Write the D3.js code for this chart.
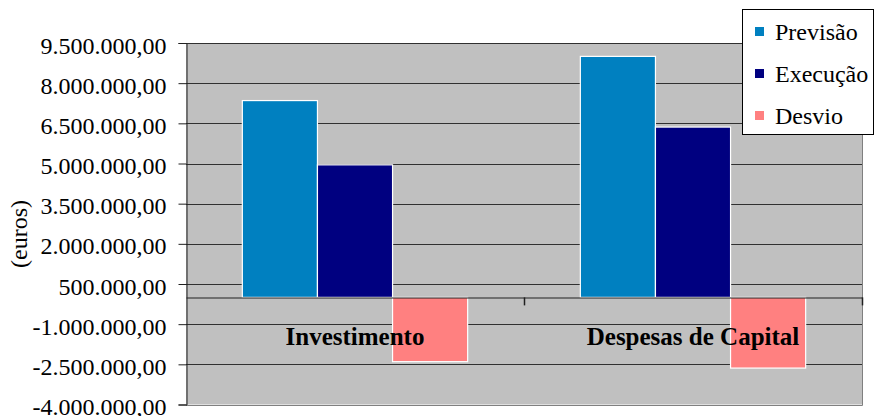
<!DOCTYPE html>
<html>
<head>
<meta charset="utf-8">
<script src="https://cdn.jsdelivr.net/npm/d3@7"></script>
<style>
  html, body { margin: 0; padding: 0; background: #fff; }
  svg { display: block; }
  svg text { font-family: "Liberation Serif", "Tinos", "Times New Roman", "DejaVu Serif", serif; }
</style>
</head>
<body>
<svg id="chart" width="877" height="416"></svg>
<script>
// ---- data ----
const categories = ["Investimento", "Despesas de Capital"];
const seriesNames = ["Previsão", "Execução", "Desvio"];
const previsao = [7350000, 9000000];
const execucao = [4950000, 6360000];
const desvio = [-2400000, -2640000];
const tickValues = [-4000000, -2500000, -1000000, 500000, 2000000, 3500000, 5000000, 6500000, 8000000, 9500000];
const seriesColors = ["#0080c0", "#000080", "#ff8080"];
const yTitle = "(euros)";

const seriesValues = [previsao, execucao, desvio];

// ---- layout ----
const plot = { left: 186, right: 862, top: 43, bottom: 404.5 };

const svg = d3.select("#chart");

const y = d3.scaleLinear().domain([-4000000, 9500000]).range([plot.bottom, plot.top]);
const x0 = d3.scaleBand().domain(categories).range([plot.left, plot.right]).padding(0);
const gap = x0.bandwidth() * 0.1667;
const x1 = d3.scaleBand().domain(seriesNames).range([gap, x0.bandwidth() - gap]).padding(0);

const locale = d3.formatLocale({ decimal: ",", thousands: ".", grouping: [3], currency: ["", " €"], minus: "-" });
const fmt = locale.format(",.2f");

// plot background
svg.append("rect")
  .attr("x", plot.left).attr("y", plot.top)
  .attr("width", plot.right - plot.left).attr("height", plot.bottom - plot.top)
  .attr("fill", "#c0c0c0");

// gridlines
svg.append("g").selectAll("line").data(tickValues.filter(v => v !== -4000000)).join("line")
  .attr("x1", plot.left).attr("x2", plot.right)
  .attr("y1", d => Math.round(y(d)) + 0.5).attr("y2", d => Math.round(y(d)) + 0.5)
  .attr("stroke", "#303030").attr("stroke-width", 1);

// plot border (right/bottom lighter)
svg.append("path")
  .attr("d", `M${plot.right + 0.5},${plot.top} V${Math.round(plot.bottom) + 0.5} H${plot.left}`)
  .attr("fill", "none").attr("stroke", "#808080").attr("stroke-width", 1);

// bars
const groups = svg.append("g").selectAll("g").data(categories).join("g")
  .attr("transform", d => `translate(${x0(d)},0)`);

groups.selectAll("rect")
  .data((c, ci) => seriesNames.map((s, si) => ({ s, si, v: seriesValues[si][ci] })))
  .join("rect")
  .attr("x", d => x1(d.s))
  .attr("width", x1.bandwidth())
  .attr("y", d => Math.min(y(d.v), y(0)))
  .attr("height", d => Math.abs(y(d.v) - y(0)))
  .attr("fill", d => seriesColors[d.si])
  .attr("stroke", "#ffffff").attr("stroke-width", 1.2);

// y axis
const yAxis = d3.axisLeft(y).tickValues(tickValues).tickFormat(fmt).tickSize(8).tickPadding(12);
const gy = svg.append("g").attr("transform", `translate(${plot.left + 0.5},0)`).call(yAxis)
  .attr("font-family", null).attr("font-size", null);
gy.select(".domain").attr("stroke", "#202020");
gy.selectAll(".tick line").attr("stroke", "#202020");
gy.selectAll(".tick text")
  .attr("font-size", 24).attr("fill", "#000").attr("dy", "0.42em");

// zero category axis
const gx = svg.append("g").attr("transform", `translate(0,${Math.round(y(0)) + 0.5})`)
  .call(d3.axisBottom(x0).tickSize(0).tickFormat(""));
gx.select(".domain").attr("stroke", "#202020");
// category boundary ticks
svg.append("g").selectAll("line").data(categories).join("line")
  .attr("x1", d => Math.round(x0(d) + x0.bandwidth()) + 0.5)
  .attr("x2", d => Math.round(x0(d) + x0.bandwidth()) + 0.5)
  .attr("y1", y(0)).attr("y2", y(0) + 8)
  .attr("stroke", "#202020").attr("stroke-width", 1.5);

// category labels
svg.append("g").selectAll("text").data(categories).join("text")
  .attr("x", d => x0(d) + x0.bandwidth() / 2)
  .attr("y", 345)
  .attr("text-anchor", "middle")
  .attr("font-weight", "bold")
  .attr("font-size", 25)
  .attr("fill", "#000")
  .text(d => d);

// y title
svg.append("text")
  .attr("transform", `translate(27,234) rotate(-90)`)
  .attr("text-anchor", "middle")
  .attr("font-size", 24)
  .attr("fill", "#000")
  .text(yTitle);

// legend
const lg = svg.append("g");
lg.append("rect").attr("x", 742.5).attr("y", 9.5).attr("width", 131).attr("height", 125)
  .attr("fill", "#fff").attr("stroke", "#000").attr("stroke-width", 1);
const items = lg.selectAll("g.item").data(seriesNames).join("g").attr("class", "item")
  .attr("transform", (d, i) => `translate(755,${32 + i * 42})`);
items.append("rect").attr("x", 0).attr("y", -5).attr("width", 9).attr("height", 9)
  .attr("fill", (d, i) => seriesColors[i]);
items.append("text").attr("x", 20).attr("y", 8).attr("font-size", 24).attr("fill", "#000")
  .text(d => d);
</script>
</body>
</html>
